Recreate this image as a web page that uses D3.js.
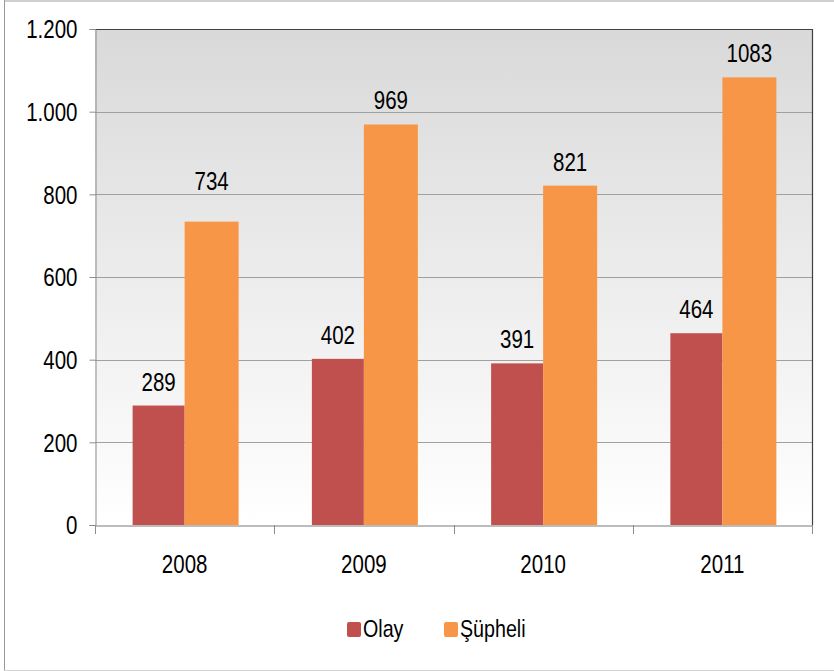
<!DOCTYPE html>
<html>
<head>
<meta charset="utf-8">
<script src="https://cdn.jsdelivr.net/npm/d3@7"></script>
<style>
  body { margin: 0; background: #fff; }
  svg { display: block; }
  text { font-family: "Liberation Sans", Arial, sans-serif; fill: #000; }
</style>
</head>
<body>
<svg width="834" height="671"></svg>
<script>
// chart data
const years = ["2008", "2009", "2010", "2011"];
const olay = [289, 402, 391, 464];
const supheli = [734, 969, 821, 1083];
const seriesNames = ["Olay", "Şüpheli"];
const seriesColors = ["#c0504d", "#f79646"];
const yTicks = [0, 200, 400, 600, 800, 1000, 1200];

const svg = d3.select("svg");
const pLeft = 95, pTop = 29, pRight = 812, pBottom = 525;
const narrow = 0.82; // text in the original is horizontally squeezed

// outer frame
svg.append("line").attr("x1", 4.5).attr("x2", 4.5).attr("y1", 0).attr("y2", 670).attr("stroke", "#999");
svg.append("line").attr("x1", 4).attr("x2", 834).attr("y1", 1).attr("y2", 1).attr("stroke", "#a0a0a0");
svg.append("line").attr("x1", 4).attr("x2", 834).attr("y1", 670.5).attr("y2", 670.5).attr("stroke", "#d4d4d4");

// background gradient
const grad = svg.append("defs").append("linearGradient")
    .attr("id", "bg").attr("x1", 0).attr("y1", 0).attr("x2", 0).attr("y2", 1);
grad.append("stop").attr("offset", "0%").attr("stop-color", "#d9d9d9");
grad.append("stop").attr("offset", "100%").attr("stop-color", "#ffffff");

svg.append("rect")
    .attr("x", pLeft).attr("y", pTop)
    .attr("width", pRight - pLeft).attr("height", pBottom - pTop)
    .attr("fill", "url(#bg)");

const x = d3.scaleBand().domain(years).range([pLeft, pRight]);
const y = d3.scaleLinear().domain([0, 1200]).range([pBottom, pTop]);

const locale = d3.formatLocale({decimal: ",", thousands: ".", grouping: [3], currency: ["", ""]});
const fmt = locale.format(",d");

// gridlines
svg.append("g").selectAll("line").data(yTicks.slice(1, -1)).enter().append("line")
    .attr("x1", pLeft).attr("x2", pRight)
    .attr("y1", function(d) { return Math.round(y(d)) + 0.5; })
    .attr("y2", function(d) { return Math.round(y(d)) + 0.5; })
    .attr("stroke", "#a0a0a0");

// plot border top + right
svg.append("path")
    .attr("d", "M" + pLeft + "," + (pTop + 0.5) + "H" + (pRight + 0.5) + "V" + pBottom)
    .attr("fill", "none").attr("stroke", "#404040").attr("stroke-width", 1.2);

// bars
const barW = 52;
const groups = svg.append("g").selectAll("g").data(years).enter().append("g");

groups.append("rect")
    .attr("x", function(d) { return x(d) + x.bandwidth() / 2 - barW; })
    .attr("y", function(d, i) { return y(olay[i]); })
    .attr("width", barW)
    .attr("height", function(d, i) { return pBottom - y(olay[i]); })
    .attr("fill", seriesColors[0]);

groups.append("rect")
    .attr("x", function(d) { return x(d) + x.bandwidth() / 2; })
    .attr("y", function(d, i) { return y(supheli[i]); })
    .attr("width", barW + 2)
    .attr("height", function(d, i) { return pBottom - y(supheli[i]); })
    .attr("fill", seriesColors[1]);

// value labels (the first orange label sits higher in the original)
const labelGap = 15;
groups.append("text")
    .attr("x", function(d) { return x(d) + x.bandwidth() / 2 - barW / 2; })
    .attr("y", function(d, i) { return y(olay[i]) - labelGap; })
    .attr("text-anchor", "middle").attr("font-size", 25)
    .text(function(d, i) { return olay[i]; });

groups.append("text")
    .attr("x", function(d) { return x(d) + x.bandwidth() / 2 + barW / 2 + 1; })
    .attr("y", function(d, i) { return y(supheli[i]) - labelGap - (i === 0 ? 17 : 0); })
    .attr("text-anchor", "middle").attr("font-size", 25)
    .text(function(d, i) { return supheli[i]; });

// y axis
const yAxis = svg.append("g")
    .attr("transform", "translate(" + (pLeft + 0.5) + ",0)")
    .call(d3.axisLeft(y).tickValues(yTicks).tickFormat(fmt).tickSize(6).tickPadding(12));
yAxis.select(".domain").attr("stroke", "#8c8c8c");
yAxis.selectAll(".tick line").attr("stroke", "#8c8c8c");
yAxis.selectAll("text").attr("font-size", 25).attr("font-family", null).attr("dy", "0.35em");

// x axis
const xAxis = svg.append("g")
    .attr("transform", "translate(0," + (pBottom + 0.5) + ")")
    .call(d3.axisBottom(x).tickSize(0).tickPadding(30));
xAxis.select(".domain").attr("stroke", "#a6a6a6").attr("stroke-width", 1.5);
xAxis.selectAll("text").attr("font-size", 25).attr("font-family", null);

svg.append("g").selectAll("line").data(years.concat(["end"])).enter().append("line")
    .attr("x1", function(d, i) { return i < years.length ? Math.round(x(d)) + 0.5 : pRight + 0.5; })
    .attr("x2", function(d, i) { return i < years.length ? Math.round(x(d)) + 0.5 : pRight + 0.5; })
    .attr("y1", pBottom).attr("y2", pBottom + 9)
    .attr("stroke", "#8c8c8c");

// legend
const legendX = [347, 444];
const legend = svg.append("g").selectAll("g").data(seriesNames).enter().append("g")
    .attr("transform", function(d, i) { return "translate(" + legendX[i] + ",622)"; });
legend.append("rect")
    .attr("width", 14).attr("height", 15).attr("rx", 2)
    .attr("fill", function(d, i) { return seriesColors[i]; });
legend.append("text")
    .attr("x", 16).attr("y", 15)
    .attr("font-size", 24)
    .text(function(d) { return d; });

// squeeze all text horizontally
svg.selectAll("text").each(function() {
    const t = d3.select(this);
    const xv = +t.attr("x") || 0;
    t.attr("x", xv / narrow).attr("transform", "scale(" + narrow + ",1)");
});
</script>
</body>
</html>
